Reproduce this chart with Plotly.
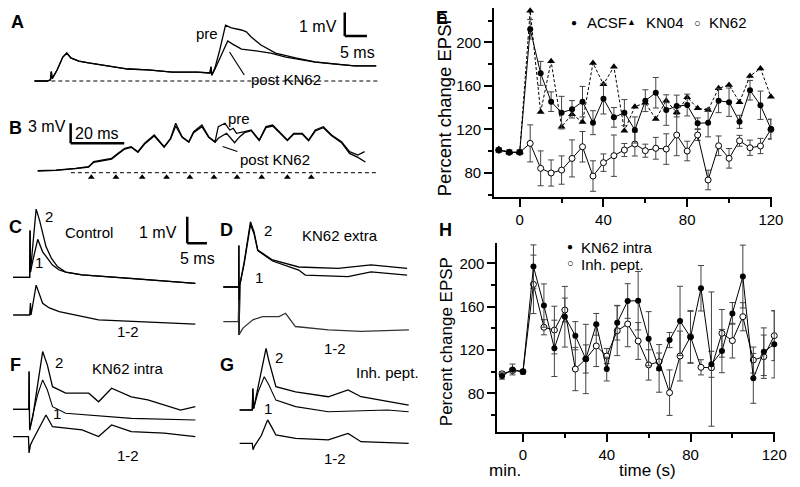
import plotly.graph_objects as go

W, H = 800, 487
FONT = "Liberation Sans, Arial, Helvetica, sans-serif"

# ---------------- Panel E data ----------------
time_s = [-10, -5, 0, 5, 10, 15, 20, 25, 30, 35, 40, 45, 50, 55, 60, 65, 70, 75, 80, 85, 90, 95, 100, 105, 110, 115, 120]
acsf = [101, 99, 99, 212, 171.5, 145.5, 135.4, 138.5, 145.5, 126.2, 148.2, 131.1, 135.4, 119.5, 146.4, 153.7, 137.8, 141.5, 142.4, 125.6, 126.2, 146.4, 145, 127, 156, 142.2, 120.5]
acsf_err = [2, 2, 2, 9, 11, 9, 15, 8, 14, 11, 14, 9, 12, 12, 10, 14, 14, 10, 10, 5, 13, 11, 13, 6, 9, 13, 9]
kn04 = [102, 99, 99, 229, 136, 182.5, 122.5, 134, 126.8, 181, 161.4, 177.6, 118.9, 140.9, 144.5, 129.6, 146.4, 135.7, 149.5, 139.4, 137.8, 157.8, 160.8, 145, 169, 176, 150]
kn62 = [101, 99, 99, 107.2, 84.3, 80, 82.7, 93.4, 104.1, 77.2, 89.5, 95.9, 101.1, 106.6, 100.5, 102.7, 102, 114.9, 100.2, 114.9, 73.6, 105, 93.5, 109.6, 103.2, 104.8, 120]
kn62_err = [2, 2, 2, 17, 16, 12, 13, 17, 14, 14, 8, 19, 6, 11, 6, 10, 14, 19, 9, 5, 9, 9, 9, 5, 7, 7, 9]

# ---------------- Panel H data ----------------
kn62_intra = [96, 102, 100, 197, 161, 121.5, 150.7, 133.2, 111.7, 143.7, 102.4, 145.2, 165.2, 165.5, 130.4, 103, 129.2, 146.8, 131.7, 177, 106.8, 119, 153.8, 187.8, 93.8, 118.4, 125.2]
kn62_intra_err = [3, 5, 2, 20, 20, 26, 28, 13, 32, 10, 11, 16, 16, 27, 25, 22, 7, 32, 24, 21, 12, 20, 10, 29, 23, 22, 31]
inh_pept = [98, 101, 100, 180.6, 141, 138.4, 156.9, 102.4, 111.7, 123.7, 114.4, 137.8, 144, 128.3, 106.2, 109.2, 80.6, 114.4, 132.3, 104, 103.6, 135.4, 128.6, 150.7, 110.7, 113.8, 133.2]
inh_pept_err_plus = [2, 2, 2, 27, 7, 22, 11, 20, 13, 19, 7, 23, 21, 17, 14, 8, 21, 23, 24, 7, 70, 22, 16, 13, 12, 20, 23]
inh_pept_err_minus = [2, 2, 2, 27, 7, 22, 11, 20, 13, 19, 7, 23, 21, 17, 14, 8, 21, 23, 24, 7, 54, 22, 16, 13, 12, 20, 23]

# ---------------- Trace data (ms, mV) ----------------
A_pre_t = [0, 2.9, 3.6, 3.8, 4.0, 5.1, 6.4, 7.3, 8.2, 10, 12.2, 16.7, 21.1, 25.6, 31.1, 36.7, 38.9, 39.6, 39.8, 40.0, 40.7, 41.8, 43.1, 44.4, 46.7, 47.8, 48.9, 51.1, 54.4, 58.9, 63.3, 67.8, 72.2, 77.1]
A_pre_v = [0, 0.0, 0.05, 0.4, 0.1, 0.47, 1.02, 1.19, 0.98, 0.85, 0.77, 0.64, 0.51, 0.47, 0.38, 0.38, 0.34, 0.34, 0.6, 0.25, 0.55, 1.32, 2.38, 2.26, 2.17, 2.09, 1.87, 1.53, 1.19, 0.98, 0.81, 0.72, 0.64, 0.64]
A_post_t = [0, 2.9, 3.6, 3.8, 4.0, 5.1, 6.4, 7.3, 8.2, 10, 12.2, 16.7, 21.1, 25.6, 31.1, 36.7, 38.9, 39.6, 39.8, 40.0, 40.7, 41.8, 43.6, 44.7, 46.7, 50, 53.3, 56.7, 58.9, 63.3, 67.8, 72.2, 77.1]
A_post_v = [0, 0.0, 0.05, 0.4, 0.1, 0.47, 1.02, 1.19, 0.98, 0.85, 0.77, 0.64, 0.51, 0.47, 0.38, 0.38, 0.34, 0.34, 0.6, 0.25, 0.5, 0.98, 1.7, 1.57, 1.36, 1.28, 1.19, 1.02, 0.95, 0.8, 0.72, 0.64, 0.64]

B_pre_t = [0.1, 6.9, 14.2, 19.1, 21.0, 27.7, 30.1, 32.6, 35.0, 37.5, 40.0, 43.6, 47.3, 49.7, 51.6, 54.0, 56.5, 58.3, 61.4, 63.9, 66.3, 67.5, 70.0, 71.8, 73.1, 74.3, 77.3, 79.8, 82.8, 85.3, 87.8, 90.2, 93.3, 95.7, 98.8, 101.2, 103.7, 106.7, 109.8, 113.5, 116.5, 119.6, 122.1]
B_pre_v = [0.30, 0.40, 0.66, 0.90, 1.65, 2.16, 2.91, 3.66, 3.90, 3.15, 4.41, 5.65, 3.90, 5.16, 7.41, 5.40, 4.65, 6.15, 7.15, 5.40, 4.65, 6.90, 7.41, 6.40, 6.66, 5.91, 6.15, 6.40, 4.90, 6.90, 7.15, 6.15, 4.90, 5.91, 5.91, 4.90, 6.40, 6.90, 5.65, 4.65, 3.15, 2.65, 3.15]
B_post_t = [0.1, 6.9, 14.2, 19.1, 21.0, 27.7, 30.1, 32.6, 35.0, 37.5, 40.0, 43.6, 47.3, 49.7, 51.6, 54.0, 56.5, 58.3, 61.4, 63.9, 66.3, 67.5, 70.6, 73.6, 75.5, 77.3, 79.8, 82.8, 85.3, 87.8, 90.2, 93.3, 95.7, 98.8, 101.2, 103.7, 106.7, 109.8, 113.5, 116.5, 119.6, 122.4]
B_post_v = [0.25, 0.35, 0.60, 0.85, 1.55, 2.05, 2.80, 3.55, 3.80, 3.05, 4.30, 5.50, 3.80, 5.05, 7.00, 5.30, 4.55, 6.00, 6.90, 5.30, 4.55, 5.16, 5.91, 4.50, 5.40, 6.00, 6.30, 4.80, 6.75, 7.00, 6.05, 4.80, 5.80, 5.80, 4.80, 6.25, 6.75, 5.55, 4.50, 2.90, 2.30, 1.60]
B_stim_t = [20.1, 29.3, 39.1, 48.2, 56.9, 65.9, 74.5, 83.7, 93.3, 102.2]

C2_t = [0, 3.7, 4.2, 4.3, 4.4, 4.9, 5.85, 6.7, 8.35, 9.7, 11.25, 13.35, 17.5, 30, 46.25]
C2_v = [0, 0, 0, 1.8, 0.2, 1.05, 2.62, 2.2, 1.18, 0.74, 0.41, 0.2, 0.09, -0.04, -0.23]
C1_t = [0, 3.7, 4.2, 4.3, 4.4, 5.05, 6.25, 7.5, 10, 11.7, 13.35, 17.5, 30, 46.25]
C1_v = [0, 0, 0, 1.8, 0.2, 0.67, 1.46, 0.98, 0.47, 0.28, 0.2, 0.09, -0.04, -0.23]
C12_t = [0, 4.2, 4.4, 4.55, 5.85, 7.5, 9.2, 11.7, 21.7, 34.2, 46.25]
C12_v = [0, 0, 0.46, 0, 1.15, 0.45, 0.27, 0.13, -0.19, -0.27, -0.35]

D2_t = [0, 3.3, 3.9, 3.95, 4.0, 4.2, 5.3, 6.9, 7.8, 8.75, 12.5, 19.15, 29.15, 37.5, 46.65]
D2_v = [0, 0, 0, 1.6, -1.85, 0.08, 0.96, 2.51, 2.12, 1.42, 1.04, 0.77, 0.72, 0.85, 0.72]
D1_t = [0, 3.3, 3.9, 3.95, 4.0, 4.2, 5.3, 6.9, 7.8, 8.75, 12.5, 19.15, 20.8, 31.65, 37.5, 46.65]
D1_v = [0, 0, 0, 1.6, -1.85, 0.08, 0.9, 2.4, 2.05, 1.4, 1.0, 0.65, 0.46, 0.4, 0.58, 0.46]
D12_t = [0, 3.8, 3.95, 4.0, 5, 7.5, 10, 14.15, 15.8, 18.3, 26.65, 35, 47.1]
D12_v = [0, 0, 0.83, -0.5, -0.25, 0.07, 0.19, 0.19, 0.32, -0.19, -0.32, -0.38, -0.32]

F2_t = [0, 3.7, 4.0, 4.05, 4.2, 5, 6.2, 7.5, 8.7, 10, 13.35, 19.2, 21.7, 25, 30, 34.2, 42.5, 46.25]
F2_v = [0, 0, 0, 1.45, -0.8, -0.28, 0.93, 2.22, 1.7, 0.87, 0.62, 0.62, 0.29, 0.81, 0.48, 0.36, -0.03, 0.1]
F1_t = [0, 3.7, 4.0, 4.05, 4.2, 5, 6.2, 7.5, 8.7, 10, 13.35, 30, 46.25]
F1_v = [0, 0, 0, 1.45, -0.8, -0.22, 0.55, 1.13, 0.74, 0.1, -0.15, -0.35, -0.41]
F12_t = [0, 3.9, 4.05, 4.4, 5, 8.35, 10, 17.5, 21.7, 25, 30, 38.35, 46.25]
F12_v = [0, 0, -0.63, -0.32, -0.13, 0.83, 0.38, 0.26, 0, 0.45, 0.19, 0.13, 0]

G2_t = [0, 3.2, 3.35, 3.55, 4.7, 6.7, 7.4, 9.2, 14.2, 22.5, 27.5, 30.8, 42.9]
G2_v = [0, 0, 0.83, 0.05, 0.9, 2.37, 1.9, 0.9, 0.7, 0.51, 0.77, 0.51, 0.19]
G1_t = [0, 3.2, 3.35, 3.55, 4.7, 6.25, 7.3, 9.2, 14.2, 22.5, 37.5, 42.9]
G1_v = [0, 0, 0.83, 0.05, 0.7, 1.28, 1.0, 0.38, 0.13, -0.07, 0, -0.07]
G12_t = [0, 3.2, 3.4, 3.8, 5.5, 7.1, 8.2, 9.2, 14.2, 22.5, 27.5, 30.8, 42.9]
G12_v = [0, 0, -0.25, -0.1, 0.3, 0.9, 0.6, 0.32, 0.19, 0.13, 0.38, 0.06, 0]

# vertical offsets (mV) of the difference traces
C12_off, D12_off, F12_off, G12_off = -1.45, -1.33, -1.05, -1.28

# ---------------- helpers ----------------
def px(x, y):
    return x / W, 1 - y / H

fig = go.Figure()
layout = {}
shapes = []
annos = []

def trace_axes(n, box, origin, scale):
    x0, x1, y0, y1 = box
    ox, oy = origin
    sx, sy = scale
    layout[f"xaxis{n}"] = dict(domain=[x0 / W, x1 / W], range=[(x0 - ox) / sx, (x1 - ox) / sx],
                               visible=False, anchor=f"y{n}", fixedrange=True)
    layout[f"yaxis{n}"] = dict(domain=[1 - y1 / H, 1 - y0 / H], range=[(oy - y1) / sy, (oy - y0) / sy],
                               visible=False, anchor=f"x{n}", fixedrange=True)

def tline(n, t, v, off=0.0, w=1.3, color="black"):
    fig.add_trace(go.Scatter(x=t, y=[a + off for a in v], mode="lines",
                             line=dict(color=color, width=w), xaxis=f"x{n}", yaxis=f"y{n}",
                             hoverinfo="skip", showlegend=False))

def text(x, y, s, size=15, bold=False, xanchor="center", angle=0):
    xx, yy = px(x, y)
    annos.append(dict(x=xx, y=yy, xref="paper", yref="paper", text=f"<b>{s}</b>" if bold else s,
                      showarrow=False, xanchor=xanchor, yanchor="middle", textangle=angle,
                      font=dict(family=FONT, size=size, color="black")))

def seg(n, x0, y0, x1, y1, w=2.5, dash=None):
    shapes.append(dict(type="line", xref=f"x{n}", yref=f"y{n}", x0=x0, y0=y0, x1=x1, y1=y1,
                       line=dict(color="black", width=w, dash=dash)))

def pseg(xa, ya, xb, yb, w=1.2):
    a = px(xa, ya); b = px(xb, yb)
    shapes.append(dict(type="line", xref="paper", yref="paper", x0=a[0], y0=a[1], x1=b[0], y1=b[1],
                       line=dict(color="black", width=w)))

# ---------------- trace panels ----------------
# A
trace_axes(3, (30, 395, 8, 95), (35, 81), (4.5, 23.5))
seg(3, 3.8, 0, 77.8, 0, w=1, dash="4px,3px")
tline(3, A_pre_t, A_pre_v)
tline(3, A_post_t, A_post_v)
seg(3, 70, 1.91, 70, 2.91)
seg(3, 70, 1.91, 75, 1.91)
text(18, 22, "A", 18, True)
text(210, 33, "pre", 15)
text(253, 79, "post KN62", 15, xanchor="left")
pseg(233, 52, 248, 75)
text(344, 27, "1 mV", 16, xanchor="right")
text(363, 52, "5 ms", 16)

# B
trace_axes(4, (30, 395, 100, 190), (38, 172.7), (2.72, 6.67))
seg(4, 12.5, 0, 126.4, 0, w=1, dash="4px,3px")
tline(4, B_pre_t, B_pre_v)
tline(4, B_post_t, B_post_v)
fig.add_trace(go.Scatter(x=B_stim_t, y=[-0.69] * len(B_stim_t), mode="markers",
                         marker=dict(symbol="triangle-up", size=6, color="black"),
                         xaxis="x4", yaxis="y4", hoverinfo="skip", showlegend=False))
seg(4, 12.4, 4.41, 12.4, 7.41)
seg(4, 12.4, 4.41, 32.4, 4.41)
text(16, 128, "B", 18, True)
text(69, 127, "3 mV", 16, xanchor="right")
text(98, 133, "20 ms", 16)
text(243, 118, "pre", 15)
text(242, 159, "post KN62", 15, xanchor="left")
pseg(226, 146.5, 241, 151.5)

# C
trace_axes(5, (5, 212, 200, 340), (13.3, 277.3), (4.0, 26.0))
tline(5, C2_t, C2_v)
tline(5, C1_t, C1_v)
tline(5, C12_t, C12_v, C12_off)
seg(5, 44.2, 1.31, 44.2, 2.33)
seg(5, 44.2, 1.31, 49.2, 1.31)
text(16, 227, "C", 18, True)
text(50, 216, "2", 15)
text(40, 262, "1", 15)
text(90, 233, "Control", 15)
text(182, 233, "1 mV", 16, xanchor="right")
text(200, 258, "5 ms", 16)
text(130, 331, "1-2", 15)

# D
trace_axes(6, (215, 420, 200, 345), (226.7, 287), (4.0, 26.0))
tline(6, D2_t, D2_v)
tline(6, D1_t, D1_v)
tline(6, D12_t, D12_v, D12_off, color="#333")
text(230, 230, "D", 18, True)
text(272, 230, "2", 15)
text(263, 277, "1", 15)
text(345, 235, "KN62 extra", 15)
text(340, 348, "1-2", 15)

# F
trace_axes(7, (5, 212, 340, 470), (13.3, 409.3), (4.0, 26.0))
tline(7, F2_t, F2_v)
tline(7, F1_t, F1_v, w=1.1)
tline(7, F12_t, F12_v, F12_off)
text(16, 365, "F", 18, True)
text(60, 362, "2", 15)
text(58, 413, "1", 15)
text(130, 368, "KN62 intra", 15)
text(130, 455, "1-2", 15)

# G
trace_axes(8, (215, 420, 340, 470), (243.3, 410), (4.0, 26.0))
tline(8, G2_t, G2_v)
tline(8, G1_t, G1_v, w=1.1)
tline(8, G12_t, G12_v, G12_off)
text(230, 365, "G", 18, True)
text(283, 357, "2", 15)
text(272, 408, "1", 15)
text(393, 372, "Inh. pept.", 15)
text(340, 458, "1-2", 15)

# ---------------- Panel E ----------------
ebar = dict(type="data", visible=True, color="#444", thickness=1, width=3)
fig.add_trace(go.Scatter(x=time_s, y=kn62, mode="lines+markers", name="KN62",
                         line=dict(color="black", width=1),
                         marker=dict(symbol="circle", size=6, color="white", line=dict(color="black", width=1)),
                         error_y=dict(ebar, array=kn62_err), cliponaxis=False, showlegend=False))
fig.add_trace(go.Scatter(x=time_s, y=kn04, mode="lines+markers", name="KN04",
                         line=dict(color="black", width=1, dash="3px,2px"),
                         marker=dict(symbol="triangle-up", size=7, color="black"),
                         cliponaxis=False, showlegend=False))
fig.add_trace(go.Scatter(x=time_s, y=acsf, mode="lines+markers", name="ACSF",
                         line=dict(color="black", width=1),
                         marker=dict(symbol="circle", size=6, color="black"),
                         error_y=dict(ebar, array=acsf_err), cliponaxis=False, showlegend=False))

# ---------------- Panel H ----------------
fig.add_trace(go.Scatter(x=time_s, y=inh_pept, mode="lines+markers", name="Inh. pept.",
                         line=dict(color="black", width=1),
                         marker=dict(symbol="circle", size=6, color="white", line=dict(color="black", width=1)),
                         error_y=dict(ebar, array=inh_pept_err_plus, arrayminus=inh_pept_err_minus, symmetric=False),
                         xaxis="x2", yaxis="y2", cliponaxis=False, showlegend=False))
fig.add_trace(go.Scatter(x=time_s, y=kn62_intra, mode="lines+markers", name="KN62 intra",
                         line=dict(color="black", width=1),
                         marker=dict(symbol="circle", size=6, color="black"),
                         error_y=dict(ebar, array=kn62_intra_err),
                         xaxis="x2", yaxis="y2", cliponaxis=False, showlegend=False))

axis_common = dict(showline=True, linecolor="black", linewidth=2, showgrid=False, zeroline=False,
                   ticks="outside", ticklen=8, tickwidth=1.5, tickcolor="black",
                   tickfont=dict(family=FONT, size=15, color="black"), fixedrange=True)
minor = dict(ticklen=4, tickwidth=1.5, tickcolor="black", dtick=20, tick0=0, ticks="outside", showgrid=False)

layout["xaxis"] = dict(axis_common, domain=[501.7 / W, 783.3 / W], range=[-12.2, 120.3],
                       tickmode="linear", tick0=0, dtick=40, minor=minor, anchor="y")
layout["yaxis"] = dict(axis_common, domain=[1 - 197.3 / H, 1 - 8 / H], range=[57.7, 231.5],
                       tickmode="linear", tick0=0, dtick=40, minor=minor, anchor="x")
layout["xaxis2"] = dict(axis_common, domain=[505 / W, 786.7 / W], range=[-12.2, 120.3],
                        tickmode="linear", tick0=0, dtick=40, minor=minor, anchor="y2")
layout["yaxis2"] = dict(axis_common, domain=[1 - 432.3 / H, 1 - 243.3 / H], range=[44, 218.5],
                        tickmode="linear", tick0=0, dtick=40, minor=minor, anchor="x2")

text(449, 18, "E", 18, True)
text(451, 104, "Percent change EPSP", 18.5, angle=-90)
text(452, 230, "H", 18, True)
text(453, 342, "Percent change EPSP", 17, angle=-90)
text(513, 470, "min.", 17)
text(657, 470, "time (s)", 17)

# legends (drawn as text glyphs)
text(583, 23, "●", 10)
text(594, 23, "ACSF", 15, xanchor="left")
text(641, 22, "▲", 9)
text(654, 23, "KN04", 15, xanchor="left")
text(708, 23, "○", 11)
text(718, 23, "KN62", 15, xanchor="left")
text(579, 246, "●", 10)
text(588, 247, "KN62 intra", 15, xanchor="left")
text(579, 263, "○", 11)
text(588, 264, "Inh. pept.", 15, xanchor="left")

fig.update_layout(width=W, height=H, margin=dict(l=0, r=0, t=0, b=0),
                  paper_bgcolor="white", plot_bgcolor="white", showlegend=False,
                  font=dict(family=FONT, color="black"), shapes=shapes, annotations=annos,
                  **layout)
fig.write_html("out.html", config={"displayModeBar": False},
               post_script="document.body.style.margin='0px';")
